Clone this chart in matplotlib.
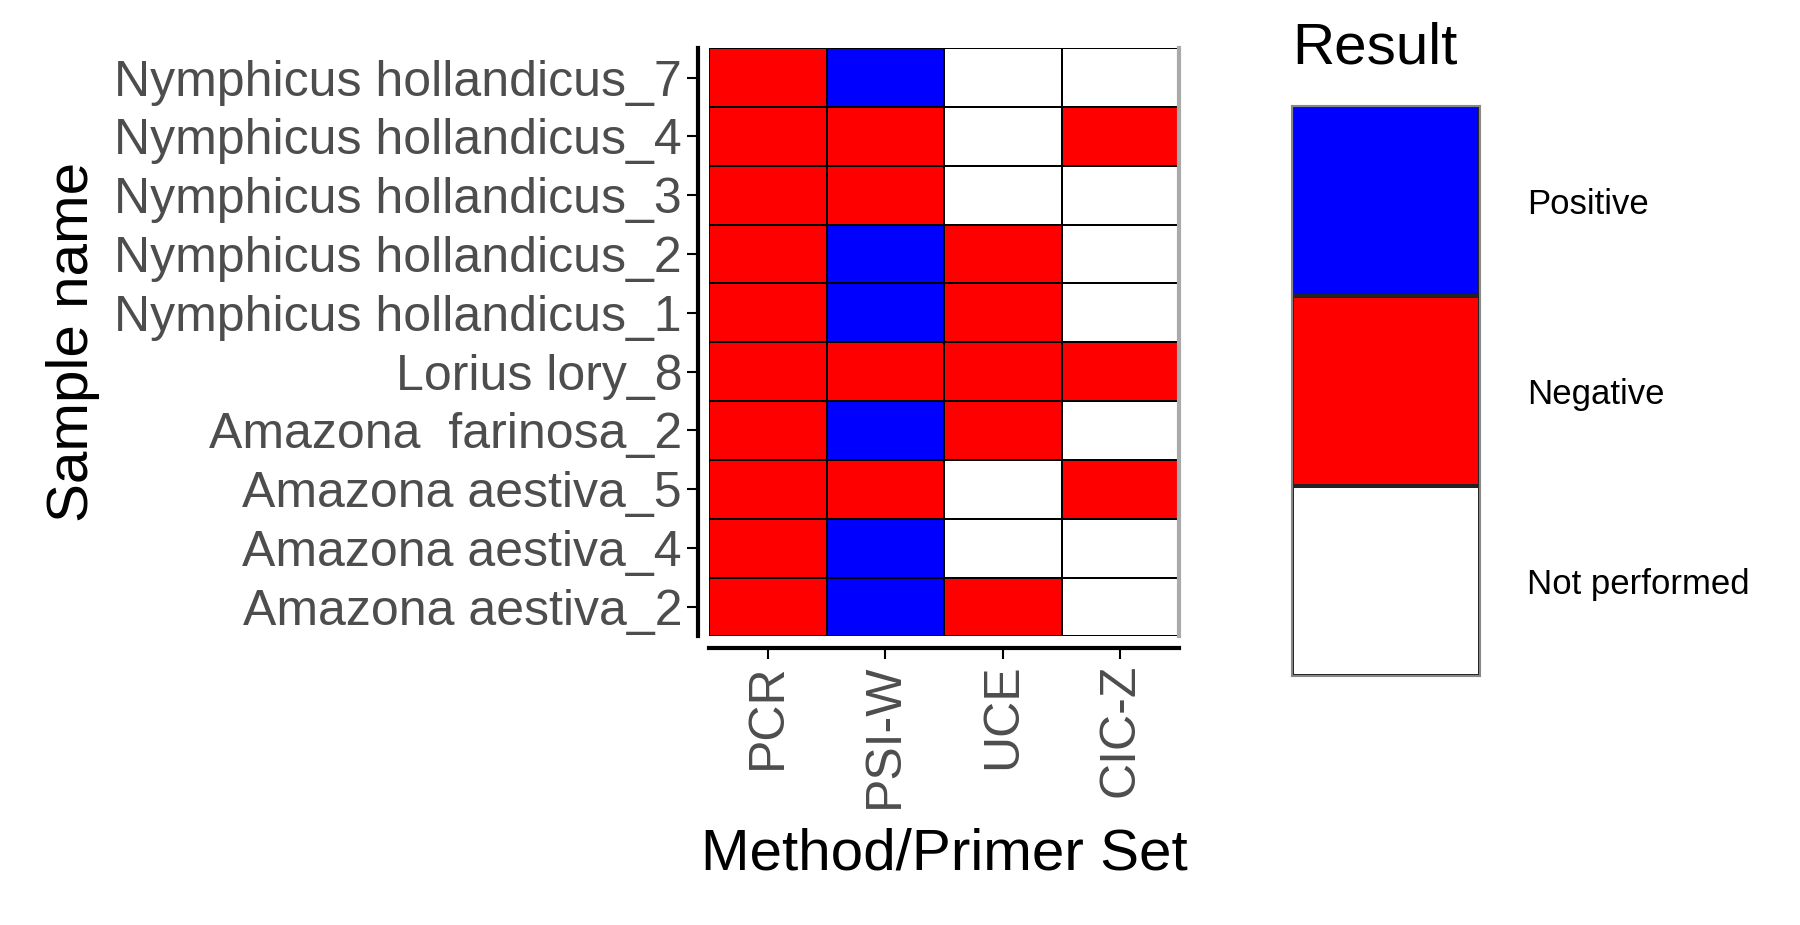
import matplotlib.pyplot as plt
import numpy as np
from matplotlib.colors import ListedColormap

plt.rcParams["font.family"] = ["Liberation Sans", "DejaVu Sans"]

samples = [
    "Nymphicus hollandicus_7",
    "Nymphicus hollandicus_4",
    "Nymphicus hollandicus_3",
    "Nymphicus hollandicus_2",
    "Nymphicus hollandicus_1",
    "Lorius lory_8",
    "Amazona  farinosa_2",
    "Amazona aestiva_5",
    "Amazona aestiva_4",
    "Amazona aestiva_2",
]
methods = ["PCR", "PSI-W", "UCE", "CIC-Z"]
# P = Positive, N = Negative, X = Not performed
results = [
    ["N", "P", "X", "X"],
    ["N", "N", "X", "N"],
    ["N", "N", "X", "X"],
    ["N", "P", "N", "X"],
    ["N", "P", "N", "X"],
    ["N", "N", "N", "N"],
    ["N", "P", "N", "X"],
    ["N", "N", "X", "N"],
    ["N", "P", "X", "X"],
    ["N", "P", "N", "X"],
]
levels = ["Positive", "Negative", "Not performed"]
colors = ["#0000ff", "#ff0000", "#ffffff"]

code = {"P": 0, "N": 1, "X": 2}
grid = np.array([[code[v] for v in row] for row in results])
cmap = ListedColormap(colors)

fig = plt.figure(figsize=(18, 9.25), dpi=100)
ax = fig.add_axes([0.394, 0.312, 0.261, 0.636])
ax.pcolormesh(grid, cmap=cmap, vmin=-0.5, vmax=2.5, edgecolors="black", linewidth=1.2)
ax.set_xlim(0, len(methods))
ax.set_ylim(len(samples), 0)
ax.set_xticks(np.arange(len(methods)) + 0.5)
ax.set_xticklabels(methods)
ax.set_yticks(np.arange(len(samples)) + 0.5)
ax.set_yticklabels(samples)
ax.tick_params(labelsize=36, labelcolor="#4d4d4d", length=8, width=1.5)
ax.tick_params(axis="x", labelrotation=90)
for s in ["left", "bottom"]:
    ax.spines[s].set_linewidth(3)
    ax.spines[s].set_position(("outward", 8))
ax.spines["top"].set_visible(False)
ax.spines["right"].set_color("#aaaaaa")
ax.spines["right"].set_linewidth(3)
ax.set_xlabel("Method/Primer Set", fontsize=42, labelpad=14)
ax.set_ylabel("Sample name", fontsize=42, labelpad=10)

# legend
lax = fig.add_axes([0.718, 0.269, 0.104, 0.616])
lax.pcolormesh(np.arange(len(levels))[:, None], cmap=cmap, vmin=-0.5, vmax=2.5,
               edgecolors="#222222", linewidth=1.5)
lax.set_ylim(len(levels), 0)
lax.set_xticks([])
lax.set_yticks(np.arange(len(levels)) + 0.5)
lax.set_yticklabels(levels)
lax.yaxis.tick_right()
lax.tick_params(length=0, labelsize=25, pad=34)
for s in lax.spines.values():
    s.set_color("#888888")
    s.set_linewidth(1.5)
fig.text(0.718, 0.948, "Result", fontsize=42, va="center", ha="left")

fig.savefig("out.png")
